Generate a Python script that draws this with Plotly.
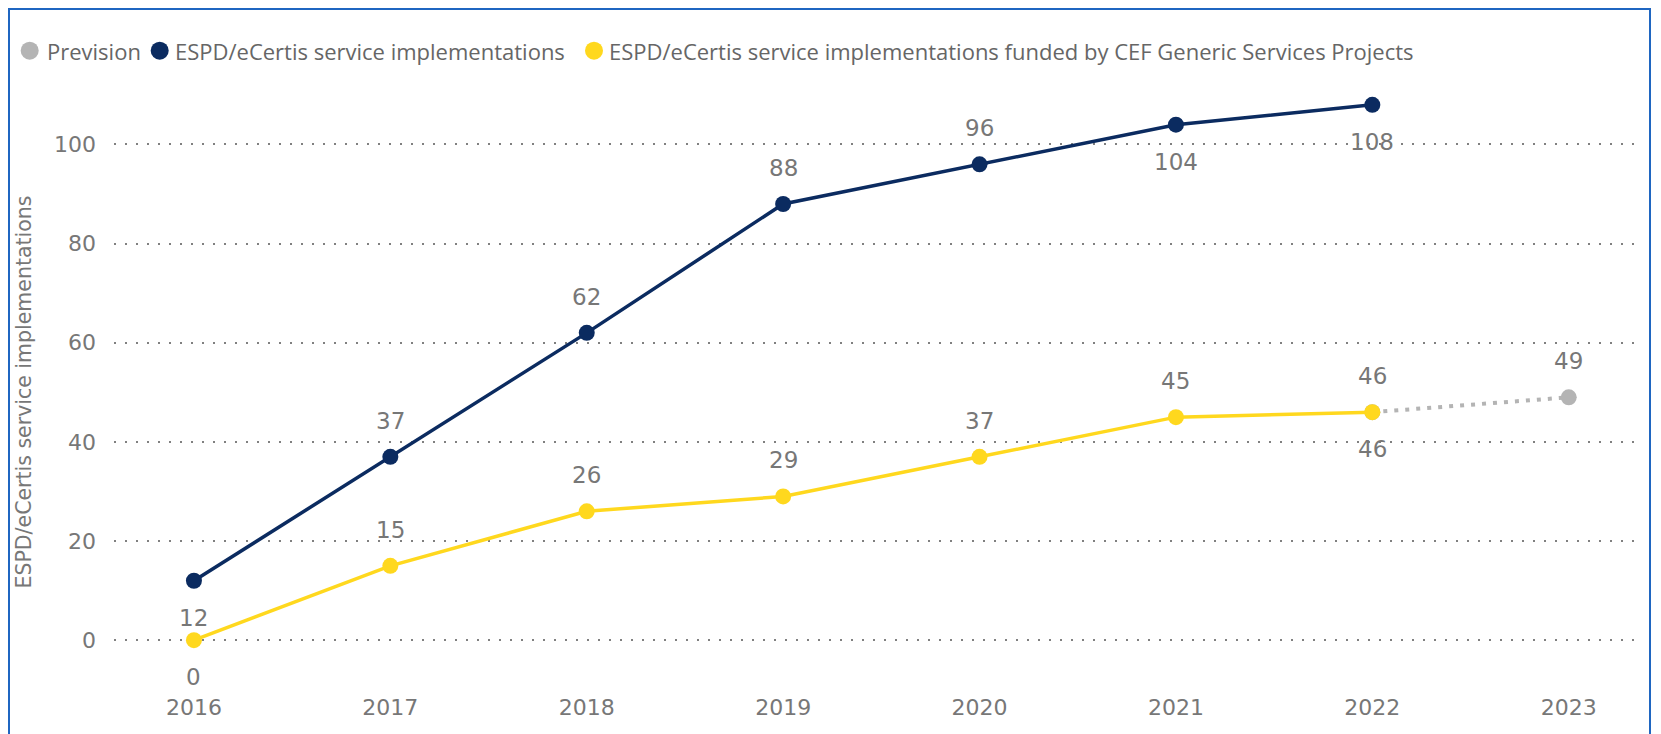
import plotly.graph_objects as go

years = [2016, 2017, 2018, 2019, 2020, 2021, 2022, 2023]
impl_years = [2016, 2017, 2018, 2019, 2020, 2021, 2022]
impl_values = [12, 37, 62, 88, 96, 104, 108]
cef_values = [0, 15, 26, 29, 37, 45, 46]
prev_years = [2022, 2023]
prev_values = [46, 49]

series_names = [
    "Prevision",
    "ESPD/eCertis service implementations",
    "ESPD/eCertis service implementations funded by CEF Generic Services Projects",
]
y_title = "ESPD/eCertis service implementations"
y_ticks = [0, 20, 40, 60, 80, 100]

# label placement styles (above / below)
impl_label_side = ["below", "above", "above", "above", "above", "below", "below"]
cef_label_side = ["below", "above", "above", "above", "above", "above", "above"]
prev_label_side = ["below", "above"]

NAVY = "#0B2B60"
YELLOW = "#FFD81E"
GREY = "#B4B4B4"
TXT = "#777777"
FONT = "DejaVu Sans"
LFONT = "Open Sans"

W, H = 1661, 734
ML, MR, MT, MB = 106, 27, 77, 77
PW, PH = W - ML - MR, H - MT - MB


def px_x(px):
    return (px - ML) / PW


def px_y(py):
    return (H - MB - py) / PH


fig = go.Figure()

fig.add_trace(go.Scatter(x=prev_years, y=prev_values, mode="lines+markers", name=series_names[0],
                         line=dict(color=GREY, width=4, dash="4px,7px"),
                         marker=dict(color=GREY, size=16), showlegend=False))
fig.add_trace(go.Scatter(x=impl_years, y=impl_values, mode="lines+markers", name=series_names[1],
                         line=dict(color=NAVY, width=3.5),
                         marker=dict(color=NAVY, size=16), showlegend=False))
fig.add_trace(go.Scatter(x=impl_years, y=cef_values, mode="lines+markers", name=series_names[2],
                         line=dict(color=YELLOW, width=3.5),
                         marker=dict(color=YELLOW, size=16), showlegend=False))


def add_labels(xs, ys, sides):
    for x, y, s in zip(xs, ys, sides):
        fig.add_annotation(x=x, y=y, text=str(y), showarrow=False,
                           yshift=36 if s == "above" else -37,
                           font=dict(family=FONT, size=23, color=TXT))


add_labels(impl_years, impl_values, impl_label_side)
add_labels(impl_years, cef_values, cef_label_side)
add_labels(prev_years, prev_values, prev_label_side)

# legend (circle + text), laid out like the original
legend_circle_px = [21.7, 151.7, 586]
legend_text_px = [37, 165, 599]
legend_y_px = 42.7
R = 9
for name, col, cx, tx in zip(series_names, [GREY, NAVY, YELLOW], legend_circle_px, legend_text_px):
    fig.add_shape(type="circle", xref="paper", yref="paper",
                  x0=px_x(cx - R), x1=px_x(cx + R), y0=px_y(legend_y_px + R), y1=px_y(legend_y_px - R),
                  fillcolor=col, line=dict(width=0))
    fig.add_annotation(xref="paper", yref="paper", x=px_x(tx), y=px_y(legend_y_px),
                       xanchor="left", yanchor="middle", text=name, showarrow=False,
                       font=dict(family=LFONT, size=22, color="#666666"))

# y-axis title
fig.add_annotation(xref="paper", yref="paper", x=px_x(15.5), y=px_y(384), text=y_title,
                   textangle=-90, showarrow=False, xanchor="center", yanchor="middle",
                   font=dict(family=FONT, size=20.5, color=TXT))

# outer blue frame
fig.add_shape(type="rect", xref="paper", yref="paper", x0=px_x(1), x1=px_x(1642),
              y0=-0.2, y1=px_y(1), line=dict(color="#1F66C1", width=2), layer="above")

fig.update_layout(
    width=W, height=H,
    margin=dict(l=ML, r=MR, t=MT, b=MB),
    paper_bgcolor="white", plot_bgcolor="white",
    font=dict(family=FONT, color=TXT),
    showlegend=False,
    xaxis=dict(range=[2015.593, 2023.373], tickvals=years, ticktext=[str(y) for y in years],
               showgrid=False, zeroline=False, showline=False, ticks="",
               tickfont=dict(family=FONT, size=22, color=TXT), ticklabelstandoff=27),
    yaxis=dict(range=[-5, 112], tickvals=y_ticks, showgrid=True, gridcolor="#808080",
               gridwidth=2, griddash="2px,9px", zeroline=False, showline=False, ticks="",
               tickfont=dict(family=FONT, size=22, color=TXT), ticklabelstandoff=17),
)

fig.write_html("out.html")
